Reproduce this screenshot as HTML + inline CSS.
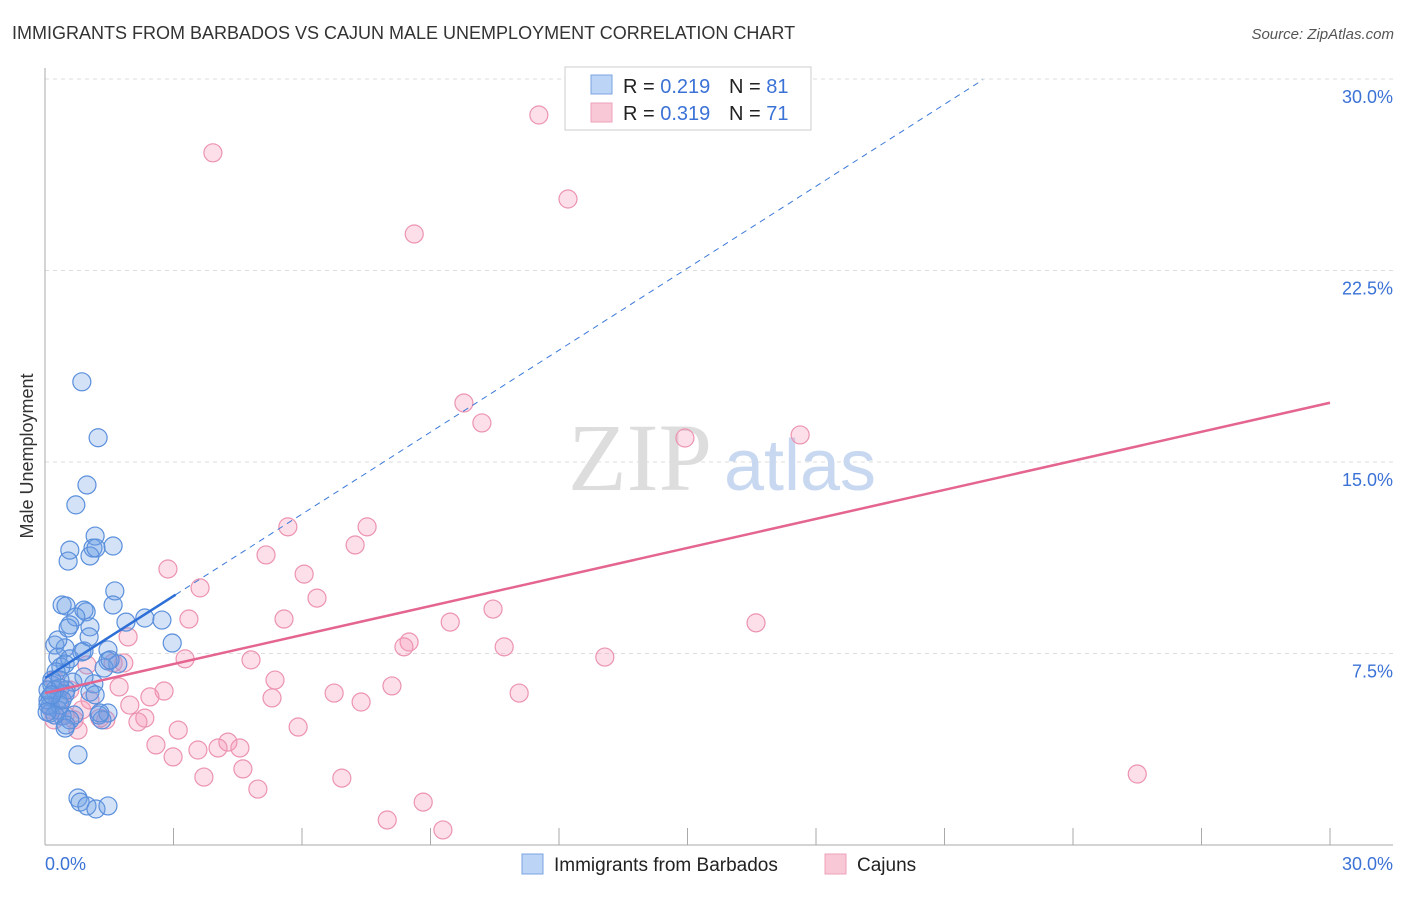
<!DOCTYPE html>
<html><head><meta charset="utf-8">
<style>
html,body{margin:0;padding:0;background:#fff;}
body{width:1406px;height:892px;overflow:hidden;font-family:"Liberation Sans",sans-serif;}
</style></head>
<body>
<svg id="chart" width="1406" height="892" xmlns="http://www.w3.org/2000/svg" font-family="Liberation Sans, sans-serif">
  <text x="12" y="39" font-size="18" fill="#333">IMMIGRANTS FROM BARBADOS VS CAJUN MALE UNEMPLOYMENT CORRELATION CHART</text>
  <text x="1394" y="39" font-size="15" fill="#555" text-anchor="end" font-style="italic">Source: ZipAtlas.com</text>
  <g id="grid"></g>
  <g id="axes"></g>
  <text x="640" y="490" font-size="96" fill="#ddd" font-family="Liberation Serif, serif" text-anchor="middle">ZIP</text>
  <text x="800" y="490" font-size="72" fill="#c8d8f0" text-anchor="middle">atlas</text>
  <g id="pink"></g>
  <g id="blue"></g>
  <g id="trends"></g>
  <text x="33" y="456" font-size="18" fill="#333" text-anchor="middle" transform="rotate(-90 33 456)">Male Unemployment</text>
  <g>
    <rect x="565" y="67" width="246" height="63" fill="#fff" stroke="#ccc"/>
    <rect x="591" y="75" width="21" height="19" fill="#bcd4f5" stroke="#7aa5e0"/>
    <rect x="591" y="103" width="21" height="19" fill="#f9c8d6" stroke="#eea0b8"/>
    <text x="623" y="93" font-size="20" fill="#222">R = <tspan fill="#3b72d6">0.219</tspan></text>
    <text x="729" y="93" font-size="20" fill="#222">N = <tspan fill="#3b72d6">81</tspan></text>
    <text x="623" y="120" font-size="20" fill="#222">R = <tspan fill="#3b72d6">0.319</tspan></text>
    <text x="729" y="120" font-size="20" fill="#222">N = <tspan fill="#3b72d6">71</tspan></text>
  </g>
  <g>
    <rect x="522" y="854" width="21" height="20" fill="#bcd4f5" stroke="#7aa5e0"/>
    <text x="554" y="871" font-size="19" fill="#222">Immigrants from Barbados</text>
    <rect x="825" y="854" width="21" height="20" fill="#f9c8d6" stroke="#eea0b8"/>
    <text x="857" y="871" font-size="19" fill="#222">Cajuns</text>
  </g>
</svg>
<script>
const yTicks=[7.5,15.0,22.5,30.0];
const yTickLabels=["7.5%","15.0%","22.5%","30.0%"];
const xTicks=[0,3,6,9,12,15,18,21,24,27,30];
const xEndLabels=["0.0%","30.0%"];
const blueX=[0.86,1.24,0.98,0.72,1.17,1.59,0.58,1.12,1.05,0.54,1.63,0.40,1.59,0.91,0.96,0.49,0.72,0.58,0.54,1.05,1.89,2.33,2.73,2.97,1.03,0.23,0.47,0.91,1.47,0.30,0.47,1.47,1.70,0.37,0.26,1.38,0.65,1.14,0.16,0.35,0.49,0.12,0.30,0.47,1.05,0.12,0.30,0.12,0.40,0.68,1.26,1.47,1.33,0.49,0.77,0.77,0.82,0.98,1.19,1.47,0.16,0.23,0.07,0.07,0.35,0.58,0.40,0.23,0.07,1.52,1.17,0.47,0.91,0.58,1.28,0.86,0.30,1.19,0.35,0.16,0.05];
const blueY=[18.14,15.95,14.10,13.32,12.10,11.71,11.55,11.63,11.32,11.12,9.95,9.40,9.40,9.20,9.13,9.36,8.93,8.62,8.50,8.54,8.73,8.89,8.81,7.91,8.15,7.83,7.72,7.60,7.64,7.36,7.09,7.21,7.09,6.97,6.78,6.93,6.38,6.31,6.27,6.15,6.07,5.80,5.68,5.91,5.99,5.44,5.29,5.17,5.05,5.09,5.09,5.17,4.90,4.70,3.53,1.84,1.68,1.53,1.41,1.53,6.46,6.07,5.68,5.48,5.48,4.90,5.68,5.09,6.07,7.25,5.88,4.58,6.58,7.29,5.17,7.56,8.03,11.63,6.46,5.88,5.21];
const pinkX=[3.92,11.53,12.21,8.62,9.78,10.20,14.94,17.63,5.67,7.52,7.24,5.16,2.87,6.05,3.62,6.35,10.46,3.36,5.58,9.46,8.50,8.38,10.72,16.60,13.07,4.81,1.94,3.27,1.84,1.59,0.98,1.73,5.37,2.78,2.45,6.75,8.10,11.07,5.30,7.38,5.91,2.33,2.17,1.42,3.11,2.59,4.27,4.55,3.57,4.04,2.99,3.71,4.62,4.97,6.93,25.50,8.83,7.99,9.29,0.21,0.47,0.68,0.35,0.58,0.23,0.86,1.28,1.98,1.05,0.16,0.77];
const pinkY=[27.11,28.59,25.30,23.93,17.31,16.53,15.94,16.06,12.46,12.46,11.75,11.36,10.81,10.61,10.07,9.67,9.24,8.85,8.85,8.73,7.95,7.76,7.76,8.70,7.36,7.25,8.15,7.29,7.13,7.13,7.05,6.19,6.46,6.03,5.80,5.95,6.23,5.95,5.76,5.60,4.62,4.97,4.82,4.90,4.50,3.92,4.03,3.80,3.72,3.80,3.45,2.66,2.98,2.19,2.62,2.78,1.68,0.98,0.59,4.90,5.09,4.90,5.68,6.07,6.46,5.29,4.97,5.48,5.68,5.29,4.50];
const blueTrend=[6.54,1.07]; // intercept, slope
const pinkTrend=[5.95,0.379];
const blueSolidEnd=3.05, blueDashEnd=21.9, pinkEnd=30;

const NS="http://www.w3.org/2000/svg";
const X0=45,X1=1330,Y0=845,Y1=79;
const sx=v=>X0+(v/30)*(X1-X0);
const sy=v=>Y0-(v/30)*(Y0-Y1);
function mk(tag,attrs,parent){const e=document.createElementNS(NS,tag);for(const k in attrs)e.setAttribute(k,attrs[k]);parent.appendChild(e);return e;}
const grid=document.getElementById('grid'),axes=document.getElementById('axes');
yTicks.forEach((t,i)=>{
  const g=mk('line',{x1:X0,x2:1393,y1:sy(t),y2:sy(t),stroke:'#ddd','stroke-dasharray':'4,4'},grid);
  
  
  const l=mk('text',{x:1393,y:sy(t)+24,'font-size':18,fill:'#3b72d6','text-anchor':'end'},axes);
  l.textContent=yTickLabels[i];
  
  
});
const ya=mk('line',{x1:X0,x2:X0,y1:68,y2:Y0,stroke:'#aaa'},axes);


const xa=mk('line',{x1:X0,x2:1393,y1:Y0,y2:Y0,stroke:'#aaa'},axes);


xTicks.forEach(t=>{
  const tk=mk('line',{x1:sx(t),x2:sx(t),y1:Y0,y2:Y0-17,stroke:'#aaa'},axes);
  
  
});
const xl0=mk('text',{x:45,y:870,'font-size':18,fill:'#3b72d6'},axes);
xl0.textContent=xEndLabels[0];


const xl1=mk('text',{x:1393,y:870,'font-size':18,fill:'#3b72d6','text-anchor':'end'},axes);
xl1.textContent=xEndLabels[1];



const pinkG=document.getElementById('pink'),blueG=document.getElementById('blue');
pinkX.forEach((x,i)=>{
  const c=mk('circle',{cx:sx(x),cy:sy(pinkY[i]),r:9,fill:'rgba(244,150,180,0.3)',stroke:'#ec93b0','stroke-width':1.2},pinkG);
  
  
});
blueX.forEach((x,i)=>{
  const c=mk('circle',{cx:sx(x),cy:sy(blueY[i]),r:9,fill:'rgba(110,160,230,0.3)',stroke:'#5a8fdc','stroke-width':1.2},blueG);
  
  
});
const tr=document.getElementById('trends');
const ly=(t,x)=>t[0]+t[1]*x;
const bd=mk('line',{x1:sx(blueSolidEnd),y1:sy(ly(blueTrend,blueSolidEnd)),x2:sx(blueDashEnd),y2:sy(ly(blueTrend,blueDashEnd)),stroke:'#3b78d8','stroke-width':1,'stroke-dasharray':'6,5'},tr);


const bs=mk('line',{x1:sx(0),y1:sy(ly(blueTrend,0)),x2:sx(blueSolidEnd),y2:sy(ly(blueTrend,blueSolidEnd)),stroke:'#2d6fd6','stroke-width':2.5},tr);


const ps=mk('line',{x1:sx(0),y1:sy(ly(pinkTrend,0)),x2:sx(pinkEnd),y2:sy(ly(pinkTrend,pinkEnd)),stroke:'#e4658f','stroke-width':2.5},tr);


</script>
</body></html>
